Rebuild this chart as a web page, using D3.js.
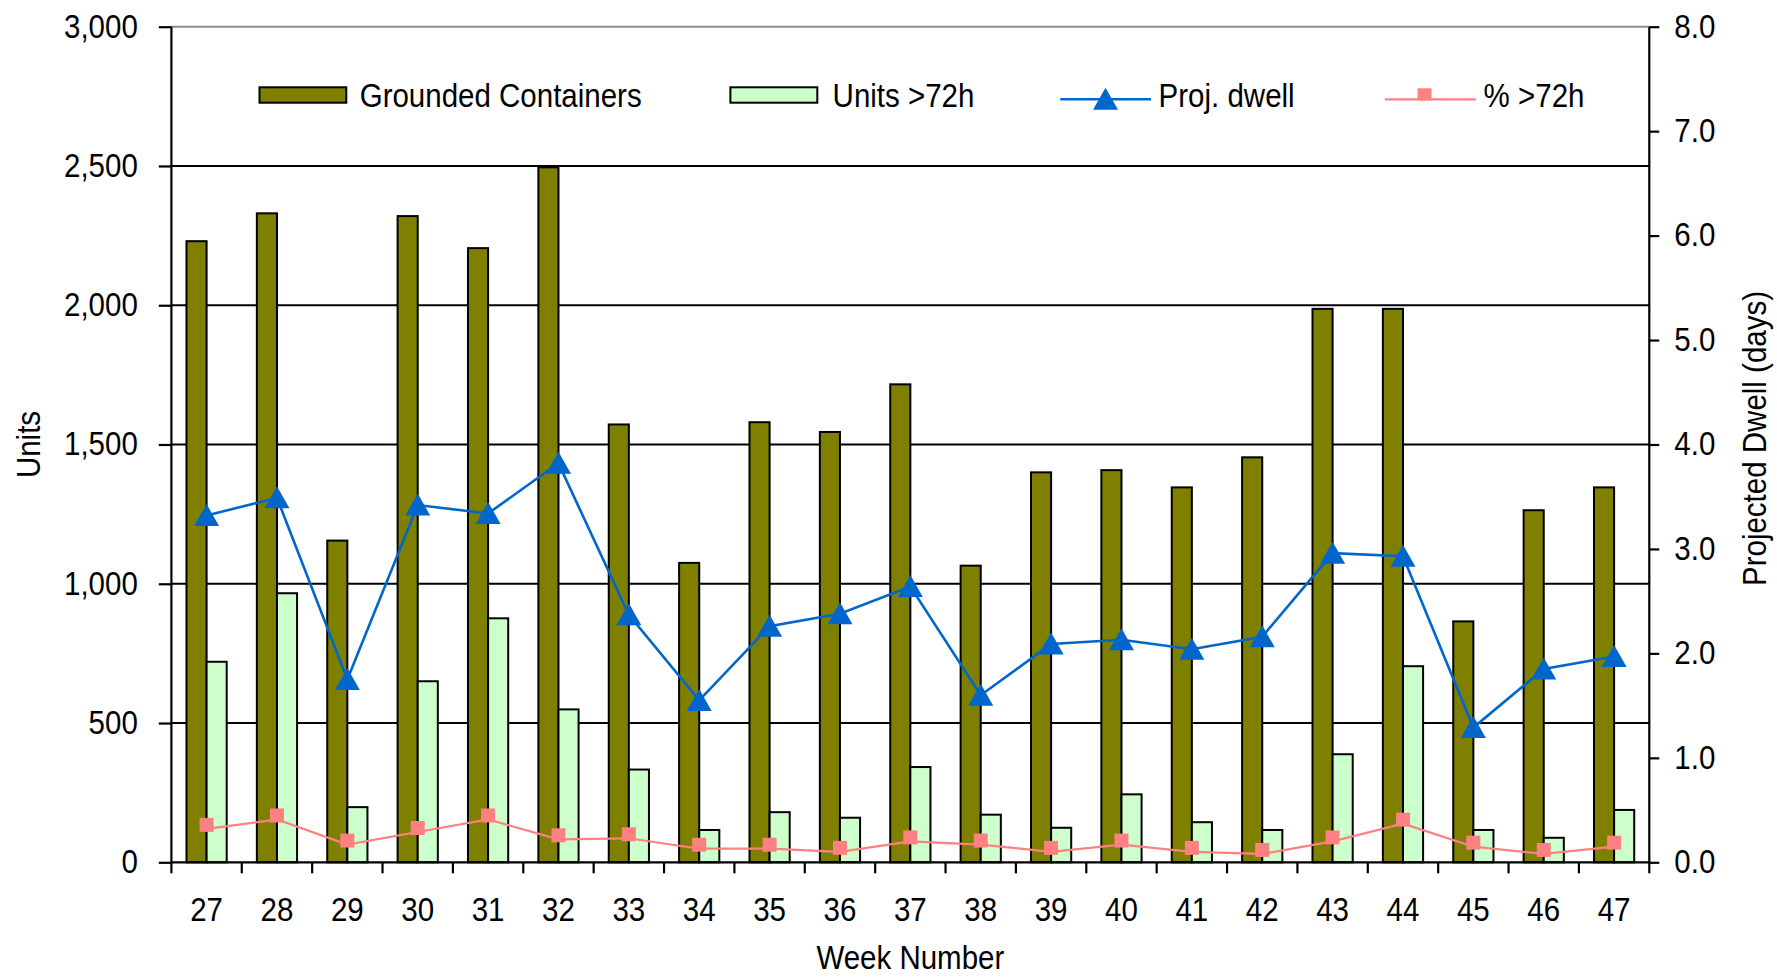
<!DOCTYPE html>
<html>
<head>
<meta charset="utf-8">
<script src="https://cdn.jsdelivr.net/npm/d3@7"></script>
<style>
  body { margin: 0; background: #fff; }
  text { font-family: "Liberation Sans", Arial, sans-serif; fill: #000; }
</style>
</head>
<body>
<script>
// values
var weeks = ["27","28","29","30","31","32","33","34","35","36","37","38","39","40","41","42","43","44","45","46","47"];
var grounded = [2230, 2330, 1155, 2320, 2205, 2495, 1572, 1075, 1580, 1545, 1716, 1065, 1400, 1408, 1346, 1454, 1987, 1987, 865, 1264, 1346];
var over72 = [720, 966, 198, 650, 876, 549, 333, 116, 180, 160, 342, 171, 124, 244, 144, 116, 388, 704, 116, 88, 188];
var dwell = [3.32, 3.49, 1.75, 3.42, 3.34, 3.82, 2.37, 1.55, 2.26, 2.38, 2.64, 1.60, 2.09, 2.13, 2.04, 2.16, 2.96, 2.93, 1.29, 1.85, 1.97];
var pctOver = [0.32, 0.41, 0.17, 0.29, 0.41, 0.22, 0.23, 0.13, 0.13, 0.10, 0.20, 0.17, 0.10, 0.17, 0.10, 0.08, 0.20, 0.37, 0.15, 0.08, 0.15];
var leftTicks = [0, 500, 1000, 1500, 2000, 2500, 3000];
var rightTicks = [0, 1, 2, 3, 4, 5, 6, 7, 8];
var legendNames = ["Grounded Containers", "Units >72h", "Proj. dwell", "% >72h"];

var width = 1777, height = 977;
var plotL = 171.4, plotR = 1649.3, plotT = 26.7, plotB = 862.3;
var fs = 29.5;
var sy = 1.1; // the reference glyphs are a bit taller than Arial

var svg = d3.select('body').append('svg')
    .attr('width', width)
    .attr('height', height);

var x = d3.scaleBand().domain(weeks).range([plotL, plotR]);
var x1 = d3.scaleBand().domain(['g', 'u']).range([0, x.bandwidth()]).paddingOuter(0.75);
var y = d3.scaleLinear().domain([0, 3000]).range([plotB, plotT]);
var y2 = d3.scaleLinear().domain([0, 8]).range([plotB, plotT]);

// gridlines
svg.append('g').selectAll('line')
    .data(leftTicks.slice(1))
    .enter().append('line')
    .attr('x1', plotL).attr('x2', plotR)
    .attr('y1', function(d){ return y(d); })
    .attr('y2', function(d){ return y(d); })
    .attr('stroke', function(d){ return d === 3000 ? '#8c8c8c' : '#000'; })
    .attr('stroke-width', 2);

// bars
var bars = svg.append('g');
bars.selectAll('rect.g')
    .data(grounded)
    .enter().append('rect')
    .attr('x', function(d, i){ return x(weeks[i]) + x1('g'); })
    .attr('y', function(d){ return y(d); })
    .attr('width', x1.bandwidth())
    .attr('height', function(d){ return y(0) - y(d); })
    .attr('fill', '#808000')
    .attr('stroke', '#000')
    .attr('stroke-width', 2);
bars.selectAll('rect.u')
    .data(over72)
    .enter().append('rect')
    .attr('x', function(d, i){ return x(weeks[i]) + x1('u'); })
    .attr('y', function(d){ return y(d); })
    .attr('width', x1.bandwidth())
    .attr('height', function(d){ return y(0) - y(d); })
    .attr('fill', '#ccffcc')
    .attr('stroke', '#000')
    .attr('stroke-width', 2);

var cx = function(d, i){ return x(weeks[i]) + x.bandwidth() / 2; };

// % >72h line
var pctLine = d3.line().x(cx).y(function(d){ return y2(d); });
svg.append('path')
    .attr('d', pctLine(pctOver))
    .attr('fill', 'none')
    .attr('stroke', '#ff8080')
    .attr('stroke-width', 2.2);
svg.append('g').selectAll('rect')
    .data(pctOver)
    .enter().append('rect')
    .attr('x', function(d, i){ return cx(d, i) - 7; })
    .attr('y', function(d){ return y2(d) - 11; })
    .attr('width', 14).attr('height', 14)
    .attr('fill', '#ff8080');

// Proj. dwell line
var dwellLine = d3.line().x(cx).y(function(d){ return y2(d); });
svg.append('path')
    .attr('d', dwellLine(dwell))
    .attr('fill', 'none')
    .attr('stroke', '#0066cc')
    .attr('stroke-width', 2.6);
function tri(px, py) {
    return 'M' + px + ',' + (py - 11.5) + 'L' + (px + 12.5) + ',' + (py + 10.5) + 'L' + (px - 12.5) + ',' + (py + 10.5) + 'Z';
}
svg.append('g').selectAll('path')
    .data(dwell)
    .enter().append('path')
    .attr('d', function(d, i){ return tri(cx(d, i), y2(d)); })
    .attr('fill', '#0066cc');

// axes
var yAxis = d3.axisLeft(y).tickValues(leftTicks).tickSize(12.6).tickPadding(21).tickFormat(d3.format(','));
var yAxis2 = d3.axisRight(y2).tickValues(rightTicks).tickSize(10).tickPadding(15).tickFormat(d3.format('.1f'));
var xAxis = d3.axisBottom(x).tickSize(0).tickPadding(32.2);

var gy = svg.append('g').attr('transform', 'translate(' + plotL + ',0)').call(yAxis);
var gy2 = svg.append('g').attr('transform', 'translate(' + plotR + ',0)').call(yAxis2);
var gx = svg.append('g').attr('transform', 'translate(0,' + plotB + ')').call(xAxis);

[gy, gy2, gx].forEach(function(g){
    g.select('.domain').attr('stroke', '#000').attr('stroke-width', 2.2);
    g.selectAll('.tick line').attr('stroke', '#000').attr('stroke-width', 2.2);
    g.selectAll('.tick text')
        .attr('font-size', fs)
        .attr('font-family', '"Liberation Sans", Arial, sans-serif')
        .attr('fill', '#000')
        .attr('transform', 'scale(1,' + sy + ')');
});
gy.select('.domain').attr('d', 'M0,' + plotT + 'V' + plotB);
gy2.select('.domain').attr('d', 'M0,' + plotT + 'V' + plotB);
gx.select('.domain').attr('d', 'M' + plotL + ',0H' + plotR);

// x tick marks at category boundaries
gx.append('g').selectAll('line')
    .data(weeks.concat(['end']))
    .enter().append('line')
    .attr('x1', function(d){ return d === 'end' ? plotR : x(d); })
    .attr('x2', function(d){ return d === 'end' ? plotR : x(d); })
    .attr('y1', 0).attr('y2', 11)
    .attr('stroke', '#000').attr('stroke-width', 2.2);

// text helper: place at (tx, ty) with a slight vertical stretch
function label(str, tx, ty, rot, anchor) {
    return svg.append('text')
        .attr('transform', 'translate(' + tx + ',' + ty + ')' + (rot ? ' rotate(' + rot + ')' : '') + ' scale(1,' + sy + ')')
        .attr('text-anchor', anchor || 'start')
        .attr('font-size', fs)
        .text(str);
}

// axis titles
label('Units', 40, (plotT + plotB) / 2, -90, 'middle');
label('Projected Dwell (days)', 1766, (plotT + plotB) / 2 - 6, -90, 'middle');
label('Week Number', (plotL + plotR) / 2, 969, 0, 'middle');

// legend
var lg = svg.append('g');
var ly = 99.3;
lg.append('rect').attr('x', 259.5).attr('y', 87.3).attr('width', 86.8).attr('height', 15.4)
    .attr('fill', '#808000').attr('stroke', '#000').attr('stroke-width', 2);
label(legendNames[0], 359.7, 107.3);
lg.append('rect').attr('x', 730.4).attr('y', 87.3).attr('width', 86.9).attr('height', 15.4)
    .attr('fill', '#ccffcc').attr('stroke', '#000').attr('stroke-width', 2);
label(legendNames[1], 832.6, 107.3);
lg.append('line').attr('x1', 1060.3).attr('x2', 1151).attr('y1', ly).attr('y2', ly)
    .attr('stroke', '#0066cc').attr('stroke-width', 2.6);
lg.append('path').attr('d', tri(1105.5, ly)).attr('fill', '#0066cc');
label(legendNames[2], 1158.6, 107.3);
lg.append('line').attr('x1', 1384.9).attr('x2', 1475.8).attr('y1', ly).attr('y2', ly)
    .attr('stroke', '#ff8080').attr('stroke-width', 2.2);
lg.append('rect').attr('x', 1417.5).attr('y', 88.3).attr('width', 14).attr('height', 12).attr('fill', '#ff8080');
label(legendNames[3], 1483.6, 107.3);
</script>
</body>
</html>
